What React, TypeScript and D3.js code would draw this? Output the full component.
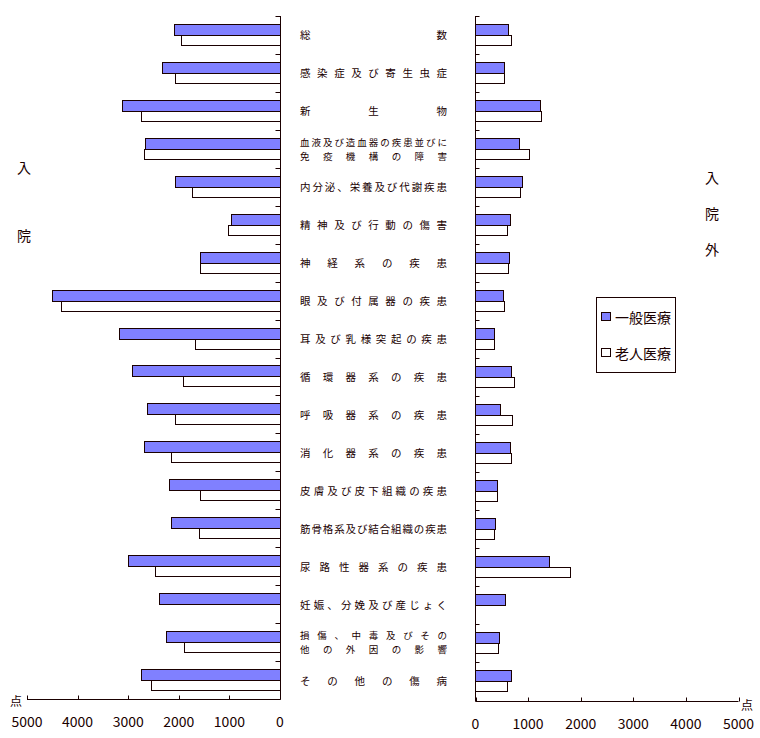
import React from "react";
import * as d3 from "d3";

const categories = [
  "総数",
  "感染症及び寄生虫症",
  "新生物",
  "血液及び造血器の疾患並びに\n免疫機構の障害",
  "内分泌、栄養及び代謝疾患",
  "精神及び行動の傷害",
  "神経系の疾患",
  "眼及び付属器の疾患",
  "耳及び乳様突起の疾患",
  "循環器系の疾患",
  "呼吸器系の疾患",
  "消化器系の疾患",
  "皮膚及び皮下組織の疾患",
  "筋骨格系及び結合組織の疾患",
  "尿路性器系の疾患",
  "妊娠、分娩及び産じょく",
  "損傷、中毒及びその\n他の外因の影響",
  "その他の傷病",
];

const inpatientGeneral = [2090, 2330, 3120, 2660, 2070, 960, 1580, 4500, 3180, 2920, 2620, 2680, 2190, 2150, 3000, 2390, 2250, 2740];
const inpatientElderly: (number | null)[] = [1950, 2070, 2740, 2680, 1730, 1020, 1580, 4320, 1670, 1910, 2070, 2150, 1580, 1600, 2480, null, 1890, 2540];
const outpatientGeneral = [610, 550, 1220, 820, 890, 650, 630, 530, 360, 680, 460, 650, 400, 380, 1390, 570, 440, 680];
const outpatientElderly: (number | null)[] = [670, 550, 1240, 1010, 840, 590, 610, 550, 360, 740, 700, 680, 400, 360, 1790, null, 420, 590];

const xTicks = [0, 1000, 2000, 3000, 4000, 5000];
const seriesNames = ["一般医療", "老人医療"];
const leftTitle = ["入", "院"];
const rightTitle = ["入", "院", "外"];
const unitLabel = "点";

const INK = "#1a0000";
const BLUE = "#8080FF";
const FONT = "'Noto Sans CJK JP', 'Noto Sans', sans-serif";

export default function App() {
  const idx = categories.map((_, i) => i);
  const xL = d3.scaleLinear().domain([0, 5000]).range([280, 27]);
  const xR = d3.scaleLinear().domain([0, 5000]).range([475.5, 738.5]);
  const yL = d3.scaleBand<number>().domain(idx).range([16, 699]);
  const yR = d3.scaleBand<number>().domain(idx).range([16, 700]);
  const barH = 11;
  const axL = 280.5;
  const axR = 475.5;
  const bottomL = 699.5;
  const bottomR = 701.5;
  const labelStart = 300;
  const labelEnd = 447;

  const renderLabel = (text: string, i: number) => {
    const lines = text.split("\n");
    const cy = yL(i)! + yL.bandwidth() / 2;
    const fs = lines.length > 1 ? 9.5 : 10.5;
    return lines.map((line, li) => {
      const chars = Array.from(line);
      const n = chars.length;
      const ly = cy + (lines.length === 1 ? 0 : (li - 0.5) * 14);
      const step = n > 1 ? (labelEnd - labelStart - fs) / (n - 1) : 0;
      return chars.map((c, ci) => (
        <text
          key={`${i}-${li}-${ci}`}
          x={labelStart + ci * step}
          y={ly}
          fontSize={fs}
          fontFamily={FONT}
          fill={INK}
          dominantBaseline="central"
        >
          {c}
        </text>
      ));
    });
  };

  return (
    <svg width={760} height={738} style={{ position: "absolute", left: 0, top: 0, background: "#fff" }}>
      {/* Left panel bars */}
      {idx.map((i) => {
        const y0 = Math.round(yL(i)! + (yL.bandwidth() - 2 * barH) / 2) + 0.5;
        const g = inpatientGeneral[i];
        const e = inpatientElderly[i];
        const gx = Math.round(xL(g)) + 0.5;
        return (
          <g key={`l${i}`}>
            <rect x={gx} y={y0} width={axL - gx} height={barH} fill={BLUE} stroke={INK} strokeWidth={1} />
            {e != null && (
              <rect
                x={Math.round(xL(e)) + 0.5}
                y={y0 + barH}
                width={axL - (Math.round(xL(e)) + 0.5)}
                height={barH - 1}
                fill="#fff"
                stroke={INK}
                strokeWidth={1}
              />
            )}
          </g>
        );
      })}
      {/* Right panel bars */}
      {idx.map((i) => {
        const y0 = Math.round(yR(i)! + (yR.bandwidth() - 2 * barH) / 2) + 0.5;
        const g = outpatientGeneral[i];
        const e = outpatientElderly[i];
        const gx = Math.round(xR(g)) + 0.5;
        return (
          <g key={`r${i}`}>
            <rect x={axR} y={y0} width={gx - axR} height={barH} fill={BLUE} stroke={INK} strokeWidth={1} />
            {e != null && (
              <rect
                x={axR}
                y={y0 + barH}
                width={Math.round(xR(e)) + 0.5 - axR}
                height={barH - 1}
                fill="#fff"
                stroke={INK}
                strokeWidth={1}
              />
            )}
          </g>
        );
      })}
      {/* Left axes */}
      <line x1={axL} x2={axL} y1={16} y2={bottomL} stroke={INK} />
      {idx.map((i) => (
        <line key={`lt${i}`} x1={axL - 5} x2={axL} y1={Math.round(yL(i)!) + 0.5} y2={Math.round(yL(i)!) + 0.5} stroke={INK} />
      ))}
      <line x1={xL(5000)} x2={axL} y1={bottomL} y2={bottomL} stroke={INK} />
      {xTicks.map((t) => (
        <g key={`lx${t}`}>
          <line x1={Math.round(xL(t)) + 0.5} x2={Math.round(xL(t)) + 0.5} y1={bottomL - 4} y2={bottomL} stroke={INK} />
          <text x={xL(t)} y={721} fontSize={14} fontFamily={FONT} fill={INK} textAnchor="middle" dominantBaseline="central">
            {t}
          </text>
        </g>
      ))}
      <text x={16} y={700} fontSize={12} fontFamily={FONT} fill={INK} textAnchor="middle" dominantBaseline="central">
        {unitLabel}
      </text>
      {/* Right axes */}
      <line x1={axR} x2={axR} y1={16} y2={bottomR} stroke={INK} />
      {idx.map((i) => (
        <line key={`rt${i}`} x1={axR} x2={axR + 4} y1={Math.round(yR(i)!) + 0.5} y2={Math.round(yR(i)!) + 0.5} stroke={INK} />
      ))}
      <line x1={axR} x2={xR(5000)} y1={bottomR} y2={bottomR} stroke={INK} />
      {xTicks.map((t) => (
        <g key={`rx${t}`}>
          <line x1={Math.round(xR(t)) + 0.5} x2={Math.round(xR(t)) + 0.5} y1={bottomR - 4} y2={bottomR} stroke={INK} />
          <text x={xR(t)} y={723} fontSize={14} fontFamily={FONT} fill={INK} textAnchor="middle" dominantBaseline="central">
            {t}
          </text>
        </g>
      ))}
      <text x={747} y={704} fontSize={12} fontFamily={FONT} fill={INK} textAnchor="middle" dominantBaseline="central">
        {unitLabel}
      </text>
      {/* Category labels */}
      {categories.map((c, i) => renderLabel(c, i))}
      {/* Side titles */}
      {leftTitle.map((c, i) => (
        <text key={`lt-${i}`} x={24} y={167 + i * 68} fontSize={14} fontFamily={FONT} fill={INK} textAnchor="middle" dominantBaseline="central">
          {c}
        </text>
      ))}
      {rightTitle.map((c, i) => (
        <text key={`rtt-${i}`} x={712} y={177 + i * 36} fontSize={14} fontFamily={FONT} fill={INK} textAnchor="middle" dominantBaseline="central">
          {c}
        </text>
      ))}
      {/* Legend */}
      <rect x={596.5} y={297.5} width={79} height={75} fill="#fff" stroke={INK} />
      {seriesNames.map((s, i) => (
        <g key={`lg${i}`}>
          <rect x={601.5} y={312.5 + i * 36} width={9} height={8} fill={i === 0 ? BLUE : "#fff"} stroke={INK} />
          <text x={615} y={317 + i * 36} fontSize={14} fontFamily={FONT} fill={INK} dominantBaseline="central">
            {s}
          </text>
        </g>
      ))}
    </svg>
  );
}
